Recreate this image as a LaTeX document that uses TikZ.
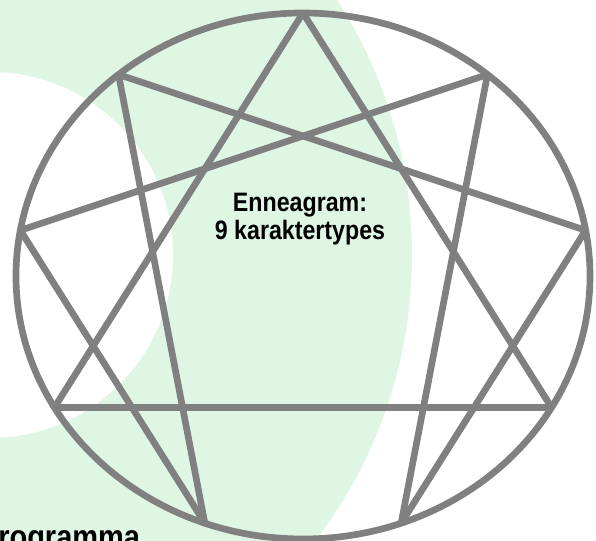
\documentclass[tikz,border=0pt]{standalone}
\usepackage{fontspec}
\newfontfamily\diagramfont{Liberation Sans}[FakeStretch=0.87]
\definecolor{mint}{RGB}{223,246,228}
\definecolor{linegray}{RGB}{128,128,128}

\begin{document}
\begin{tikzpicture}[x=0.75pt,y=0.75pt,
  every node/.style={font=\diagramfont\bfseries, inner sep=0pt},
  figure/.style={draw=linegray, line width=5pt, line join=round}]
  \useasboundingbox (0,0) rectangle (596,541);
  \clip (0,0) rectangle (596,541);

  % Background
  \fill[white] (0,0) rectangle (596,541);
  \fill[mint] (-59,286) circle (471);
  \fill[white] (-10,286) circle (183);

  % Points on the circle, 9 at the top
  \foreach \i in {1,...,9}
    \coordinate (p\i) at ({303+287*cos(90-40*\i)},{265+263*sin(90-40*\i)});

  % Circle
  \draw[figure] (303,265) ellipse (287 and 263);

  % Triangle and hexad
  \draw[figure] (p9) -- (p3) -- (p6) -- cycle;
  \foreach \a/\b in {1/4, 4/2, 2/8, 8/5, 5/7, 7/1}
    \draw[figure] (p\a) -- (p\b);

  % Labels
  \node[align=center, font=\diagramfont\bfseries\fontsize{20}{21}\selectfont] (title) at (300,322) {Enneagram:\\9 karaktertypes};
  \node[anchor=base west, font=\diagramfont\bfseries\fontsize{25}{30}\selectfont] (programme) at (-2,-8) {rogramma};
\end{tikzpicture}
\end{document}
